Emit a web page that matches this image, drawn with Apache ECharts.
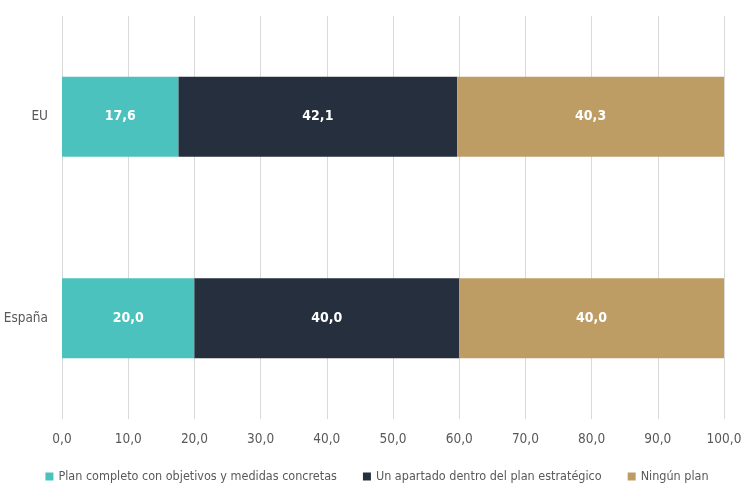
<!DOCTYPE html>
<html>

<head>
    <meta charset="utf-8" />
    <script src="https://cdn.jsdelivr.net/npm/echarts@6/dist/echarts.min.js"></script>
    <style>
        html, body { margin: 0; padding: 0; background: #fff; }
    </style>
</head>

<body>
    <div id="main" style="width: 754px; height: 501px;"></div>
    <script type="text/javascript">
        var categories = ['España', 'EU'];
        var seriesNames = [
            'Plan completo con objetivos y medidas concretas',
            'Un apartado dentro del plan estratégico',
            'Ningún plan'
        ];
        var planCompleto = [20.0, 17.6];
        var unApartado = [40.0, 42.1];
        var ningunPlan = [40.0, 40.3];
        var colors = ['#4cc2be', '#262f3e', '#be9d65'];

        var fontName = '"DejaVu Sans Condensed", "Liberation Sans Narrow", sans-serif';

        function fmt(v) {
            return Number(v).toFixed(1).replace('.', ',');
        }

        var myChart = echarts.init(document.getElementById('main'));

        var seriesData = [planCompleto, unApartado, ningunPlan];
        var series = seriesData.map(function (d, i) {
            return {
                name: seriesNames[i],
                type: 'bar',
                stack: 'total',
                barWidth: 80,
                data: d,
                itemStyle: { color: colors[i] },
                label: {
                    show: true,
                    position: 'inside',
                    color: '#fff',
                    fontFamily: fontName,
                    fontWeight: 'bold',
                    fontSize: 14,
                    formatter: function (p) { return fmt(p.value); }
                }
            };
        });

        var option = {
            animation: false,
            textStyle: { fontFamily: fontName },
            grid: { left: 62, right: 30, top: 16, bottom: 82, outerBoundsMode: 'none', containLabel: false },
            legend: {
                bottom: 13,
                left: 'center',
                itemWidth: 8,
                itemHeight: 8,
                itemGap: 26,
                icon: 'rect',
                textStyle: { color: '#595959', fontSize: 12.5, fontFamily: fontName },
                data: seriesNames
            },
            xAxis: {
                type: 'value',
                min: 0,
                max: 100,
                interval: 10,
                axisLine: { show: false },
                axisTick: { show: false },
                splitLine: { lineStyle: { color: '#d9d9d9', width: 1 } },
                axisLabel: {
                    color: '#595959',
                    fontSize: 13.5,
                    margin: 13,
                    fontFamily: fontName,
                    formatter: function (v) { return fmt(v); }
                }
            },
            yAxis: {
                type: 'category',
                data: categories,
                axisLine: { show: false },
                axisTick: { show: false },
                axisLabel: { color: '#595959', fontSize: 13.5, margin: 14, fontFamily: fontName }
            },
            series: series
        };

        myChart.setOption(option);
    </script>
</body>

</html>
